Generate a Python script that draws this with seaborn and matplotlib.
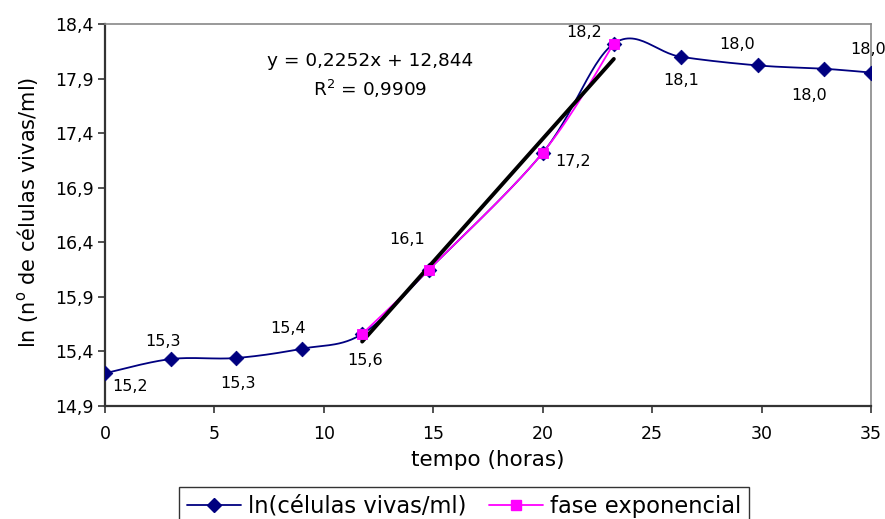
import numpy as np
import pandas as pd
import matplotlib
matplotlib.use("Agg")
import matplotlib.pyplot as plt
from matplotlib.lines import Line2D
import seaborn as sns

# ---- data ----
tempo = [0, 3, 6, 9, 11.75, 14.8, 20.0, 23.25, 26.3, 29.85, 32.85, 35.0]
ln_cel = [15.20, 15.33, 15.34, 15.425, 15.56, 16.15, 17.22, 18.22, 18.10, 18.02, 17.99, 17.955]
rotulos = ["15,2", "15,3", "15,3", "15,4", "15,6", "16,1", "17,2", "18,2", "18,1", "18,0", "18,0", "18,0"]
exp_tempo = [11.75, 14.8, 20.0, 23.25]
exp_ln = [15.56, 16.15, 17.22, 18.22]
slope, intercept = 0.2252, 12.844
r2_txt = "0,9909"
x_ticks = [0, 5, 10, 15, 20, 25, 30, 35]
y_ticks = [14.9, 15.4, 15.9, 16.4, 16.9, 17.4, 17.9, 18.4]

# label offsets in pixels (dx, dy; dy positive = up)
offsets = [(25, -13), (-8, 18), (2, -26), (-14, 20), (3, -27), (-22, 30),
           (30, -9), (-30, 11), (1, -24), (-21, 21), (-15, -27), (-3, 23)]

sns.set_style("white")
plt.rcParams['font.family'] = ['DejaVu Sans']
plt.rcParams['mathtext.fontset'] = 'dejavusans'
plt.rcParams['text.color'] = 'black'
plt.rcParams['axes.labelcolor'] = 'black'
plt.rcParams['xtick.color'] = 'black'
plt.rcParams['ytick.color'] = 'black'


def smooth(xs, ys, n=30):
    """Excel-like smoothed line (Catmull-Rom through the points)."""
    P = np.column_stack([xs, ys]).astype(float)
    P = np.vstack([P[0], P, P[-1]])
    out = []
    t = np.linspace(0, 1, n)[:, None]
    for i in range(1, len(P) - 2):
        p0, p1, p2, p3 = P[i - 1], P[i], P[i + 1], P[i + 2]
        c1 = p1 + (p2 - p0) / 6
        c2 = p2 - (p3 - p1) / 6
        seg = ((1 - t) ** 3) * p1 + 3 * ((1 - t) ** 2) * t * c1 + 3 * (1 - t) * t ** 2 * c2 + t ** 3 * p2
        out.append(seg)
    S = np.vstack(out)
    return S[:, 0], S[:, 1]


fig = plt.figure(figsize=(8.85, 5.19), dpi=100)
ax = fig.add_axes([105 / 885, 1 - 406 / 519, 766 / 885, 382 / 519])

navy = "#000080"
mag = "#FF00FF"

sx, sy = smooth(tempo, ln_cel)
ax.plot(sx, sy, color=navy, lw=1.3, zorder=3)
df = pd.DataFrame({"t": tempo, "v": ln_cel})
sns.scatterplot(data=df, x="t", y="v", marker="D", s=55, color=navy, edgecolor=navy, ax=ax, zorder=4, legend=False)

ex, ey = smooth(exp_tempo, exp_ln)
ax.plot(ex, ey, color=mag, lw=1.3, zorder=3)
dfe = pd.DataFrame({"t": exp_tempo, "v": exp_ln})
sns.scatterplot(data=dfe, x="t", y="v", marker="s", s=60, color=mag, edgecolor=mag, ax=ax, zorder=5, legend=False)

# trendline
tx = np.array([exp_tempo[0], exp_tempo[-1]])
ax.plot(tx, slope * tx + intercept, color="black", lw=2.8, zorder=4)

for xv, yv, lab, (dx, dy) in zip(tempo, ln_cel, rotulos, offsets):
    ax.annotate(lab, (xv, yv), xytext=(dx * 0.72, dy * 0.72), textcoords="offset points",
                ha="center", va="center", fontsize=11.5, color="black", zorder=6)

ax.text(370 / 885, 1 - 61 / 519, "y = 0,2252x + 12,844", transform=fig.transFigure,
        ha="center", va="center", fontsize=13.3)
ax.text(370 / 885, 1 - 89 / 519, "R$^2$ = " + r2_txt, transform=fig.transFigure,
        ha="center", va="center", fontsize=13.3)

ax.set_xlim(0, 35)
ax.set_ylim(14.9, 18.4)
ax.set_xticks(x_ticks)
ax.set_xticklabels([str(v) for v in x_ticks], fontsize=12.5)
ax.set_yticks(y_ticks)
ax.set_yticklabels([f"{v:.1f}".replace(".", ",") for v in y_ticks], fontsize=12.5)
ax.tick_params(axis="both", direction="out", length=5, width=1.2, color="#333333", labelcolor="black")
ax.tick_params(axis="x", pad=9)
ax.tick_params(axis="y", pad=3)
ax.xaxis.set_ticks_position("bottom")
ax.yaxis.set_ticks_position("left")

for side in ["left", "bottom"]:
    ax.spines[side].set_color("#333333")
    ax.spines[side].set_linewidth(1.6)
for side in ["top", "right"]:
    ax.spines[side].set_color("#888888")
    ax.spines[side].set_linewidth(1.2)

ax.set_xlabel("tempo (horas)", fontsize=15.5, color="black")
ax.xaxis.set_label_coords(488 / 885, 1 - 460 / 519, transform=fig.transFigure)
ax.set_ylabel("ln (n$^{\\mathrm{o}}$ de células vivas/ml)", fontsize=15, color="black")
ax.yaxis.set_label_coords(28 / 885, 1 - 212 / 519, transform=fig.transFigure)
ax.xaxis.label.set_va("center")
ax.yaxis.label.set_va("center")

handles = [
    Line2D([0], [0], color=navy, lw=1.3, marker="D", markersize=7, markerfacecolor=navy, markeredgecolor=navy),
    Line2D([0], [0], color=mag, lw=1.3, marker="s", markersize=7, markerfacecolor=mag, markeredgecolor=mag),
]
leg = fig.legend(handles, ["ln(células vivas/ml)", "fase exponencial"], loc="center",
                 bbox_to_anchor=(464 / 885, 1 - 506 / 519), ncol=2, fontsize=16.3,
                 frameon=True, fancybox=False, edgecolor="black", handlelength=2.4,
                 columnspacing=1.0, borderpad=0.35, handletextpad=0.3, labelcolor="black")
leg.get_frame().set_linewidth(1.0)

fig.savefig("out.png", dpi=100)
